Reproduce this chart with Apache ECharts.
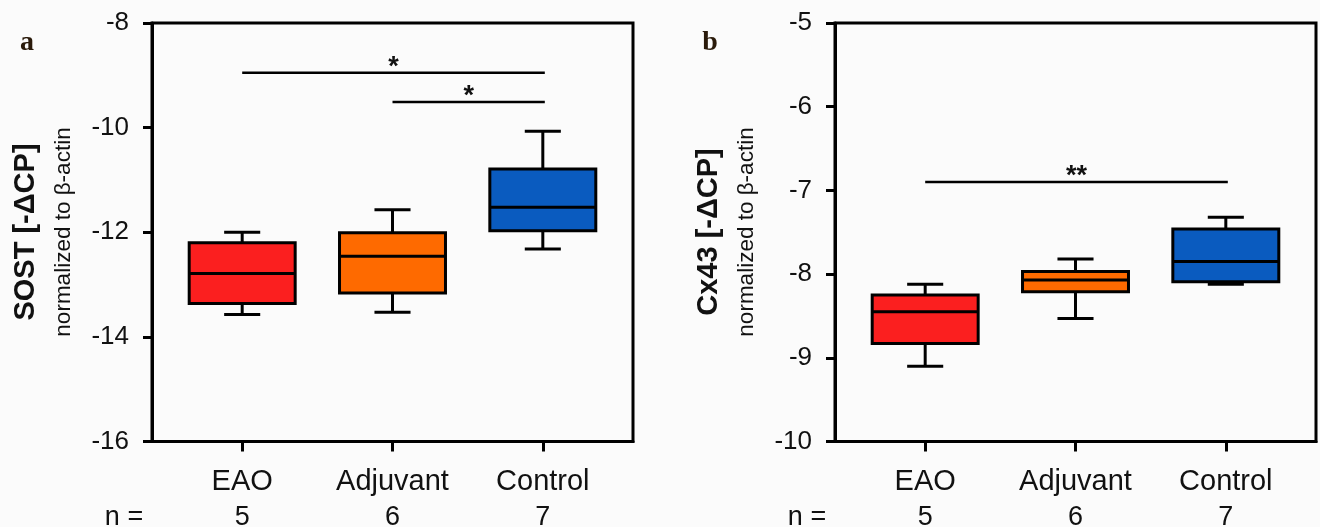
<!DOCTYPE html>
<html lang="en">
<head>
  <meta charset="UTF-8">
  <title>SOST / Cx43 box plots</title>
  <style>
    html, body { margin: 0; padding: 0; background: #fbfbfb; }
    #chart { width: 1320px; height: 527px; }
  </style>
  <script src="https://cdn.jsdelivr.net/npm/echarts@6/dist/echarts.min.js"></script>
</head>
<body>
  <div id="chart"></div>
  <script>
    // groups, sample sizes, box fill colours
    var groups = ['EAO', 'Adjuvant', 'Control'];
    var nCounts = [5, 6, 7];
    var boxColors = ['#fb1f1f', '#fe6a00', '#0a5bbf'];

    // panel a: SOST [-dCP]
    var sostMin = [-13.57, -13.53, -12.32];
    var sostQ1 = [-13.36, -13.16, -11.97];
    var sostMed = [-12.79, -12.46, -11.52];
    var sostQ3 = [-12.20, -12.01, -10.79];
    var sostMax = [-12.00, -11.57, -10.07];
    var sostTicks = [-16, -14, -12, -10, -8];
    // significance bars: [from group, to group, height, stars]
    var sostSig = [[1, 3, -8.95, '*'], [2, 3, -9.51, '*']];

    // panel b: Cx43 [-dCP]
    var cxMin = [-9.10, -8.53, -8.12];
    var cxQ1 = [-8.83, -8.21, -8.09];
    var cxMed = [-8.45, -8.07, -7.85];
    var cxQ3 = [-8.25, -7.97, -7.46];
    var cxMax = [-8.12, -7.82, -7.32];
    var cxTicks = [-10, -9, -8, -7, -6, -5];
    var cxSig = [[1, 3, -6.90, '**']];

    var myChart = echarts.init(document.getElementById('chart'));
    var FONT = '"Liberation Sans", Arial, sans-serif';

    function boxData(mn, q1, md, q3, mx) {
      return groups.map(function (g, i) {
        return [i + 1, mn[i], q1[i], md[i], q3[i], mx[i], i];
      });
    }

    function renderBox(params, api) {
      var x = api.value(0);
      var half = api.size([0.705, 0])[0] / 2;
      var cap = api.size([0.24, 0])[0] / 2;
      var pMin = api.coord([x, api.value(1)]);
      var pQ1 = api.coord([x, api.value(2)]);
      var pMed = api.coord([x, api.value(3)]);
      var pQ3 = api.coord([x, api.value(4)]);
      var pMax = api.coord([x, api.value(5)]);
      var cx = pMin[0];
      var ln = { stroke: '#000', lineWidth: 3 };
      return {
        type: 'group',
        children: [
          { type: 'line', shape: { x1: cx, y1: pQ1[1], x2: cx, y2: pMin[1] }, style: ln },
          { type: 'line', shape: { x1: cx - cap, y1: pMin[1], x2: cx + cap, y2: pMin[1] }, style: ln },
          { type: 'line', shape: { x1: cx, y1: pQ3[1], x2: cx, y2: pMax[1] }, style: ln },
          { type: 'line', shape: { x1: cx - cap, y1: pMax[1], x2: cx + cap, y2: pMax[1] }, style: ln },
          {
            type: 'rect',
            shape: { x: cx - half, y: pQ3[1], width: half * 2, height: pQ1[1] - pQ3[1] },
            style: { fill: boxColors[api.value(6)], stroke: '#000', lineWidth: 3 }
          },
          { type: 'line', shape: { x1: cx - half, y1: pMed[1], x2: cx + half, y2: pMed[1] }, style: ln }
        ]
      };
    }

    function sigRenderer(sig) {
      return function (params, api) {
        var a = api.coord([api.value(0), api.value(2)]);
        var b = api.coord([api.value(1), api.value(2)]);
        return {
          type: 'group',
          children: [
            { type: 'line', shape: { x1: a[0], y1: a[1], x2: b[0] + 2, y2: b[1] }, style: { stroke: '#000', lineWidth: 2.5 } },
            {
              type: 'text', x: (a[0] + b[0]) / 2 + 1, y: a[1] - 5,
              style: { text: sig[params.dataIndex][3], font: 'bold 27px ' + FONT, fill: '#111', align: 'center', verticalAlign: 'middle' }
            }
          ]
        };
      };
    }

    function xAxisFor(idx) {
      return {
        type: 'value', gridIndex: idx, min: 0.4, max: 3.6,
        splitLine: { show: false },
        axisLine: { show: true, onZero: false, lineStyle: { color: '#000', width: 3 } },
        axisTick: { show: true, customValues: [1, 2, 3], length: 10, lineStyle: { color: '#000', width: 3 } },
        axisLabel: {
          customValues: [1, 2, 3], margin: 22,
          formatter: function (v) {
            var i = Math.round(v) - 1;
            return '{c|' + groups[i] + '}\n{n|' + nCounts[i] + '}';
          },
          rich: {
            c: { fontSize: 29, lineHeight: 37, color: '#111', fontFamily: FONT },
            n: { fontSize: 27, lineHeight: 35, color: '#111', fontFamily: FONT }
          }
        }
      };
    }

    function yAxisFor(idx, ticks) {
      return {
        type: 'value', gridIndex: idx,
        min: ticks[0], max: ticks[ticks.length - 1], interval: ticks[1] - ticks[0],
        splitLine: { show: false },
        axisLine: { show: true, onZero: false, lineStyle: { color: '#000', width: 3 } },
        axisTick: { show: true, length: 9, lineStyle: { color: '#000', width: 3 } },
        axisLabel: { margin: 23, fontSize: 26, color: '#111', fontFamily: FONT }
      };
    }

    function panelText(offset, letter, title) {
      return [
        { type: 'text', x: offset + 27, y: 43, style: { text: letter, font: 'bold 28px "Liberation Serif", serif', fill: '#2a1a0a', align: 'center', verticalAlign: 'middle' } },
        { type: 'text', x: offset + 26, y: 232, rotation: Math.PI / 2, style: { text: title, font: 'bold 29px ' + FONT, fill: '#111', align: 'center', verticalAlign: 'middle' } },
        { type: 'text', x: offset + 64, y: 232, rotation: Math.PI / 2, style: { text: 'normalized to β-actin', font: '22.5px ' + FONT, fill: '#111', align: 'center', verticalAlign: 'middle' } },
        { type: 'text', x: offset + 124, y: 518, style: { text: 'n =', font: '27px ' + FONT, fill: '#111', align: 'center', verticalAlign: 'middle' } }
      ];
    }

    option = {
      backgroundColor: '#fbfbfb',
      animation: false,
      grid: [
        { left: 152, top: 23, width: 481, height: 418.5, outerBoundsMode: 'none', show: true, borderColor: '#000', borderWidth: 3, backgroundColor: 'transparent' },
        { left: 835, top: 23, width: 481, height: 418.5, outerBoundsMode: 'none', show: true, borderColor: '#000', borderWidth: 3, backgroundColor: 'transparent' }
      ],
      xAxis: [xAxisFor(0), xAxisFor(1)],
      yAxis: [yAxisFor(0, sostTicks), yAxisFor(1, cxTicks)],
      graphic: panelText(0, 'a', 'SOST [-ΔCP]').concat(panelText(683, 'b', 'Cx43 [-ΔCP]')),
      series: [
        { type: 'custom', name: 'SOST', xAxisIndex: 0, yAxisIndex: 0, renderItem: renderBox, data: boxData(sostMin, sostQ1, sostMed, sostQ3, sostMax) },
        { type: 'custom', name: 'SOST sig', xAxisIndex: 0, yAxisIndex: 0, renderItem: sigRenderer(sostSig), data: sostSig.map(function (s) { return [s[0], s[1], s[2]]; }) },
        { type: 'custom', name: 'Cx43', xAxisIndex: 1, yAxisIndex: 1, renderItem: renderBox, data: boxData(cxMin, cxQ1, cxMed, cxQ3, cxMax) },
        { type: 'custom', name: 'Cx43 sig', xAxisIndex: 1, yAxisIndex: 1, renderItem: sigRenderer(cxSig), data: cxSig.map(function (s) { return [s[0], s[1], s[2]]; }) }
      ]
    };

    myChart.setOption(option);
  </script>
</body>
</html>
